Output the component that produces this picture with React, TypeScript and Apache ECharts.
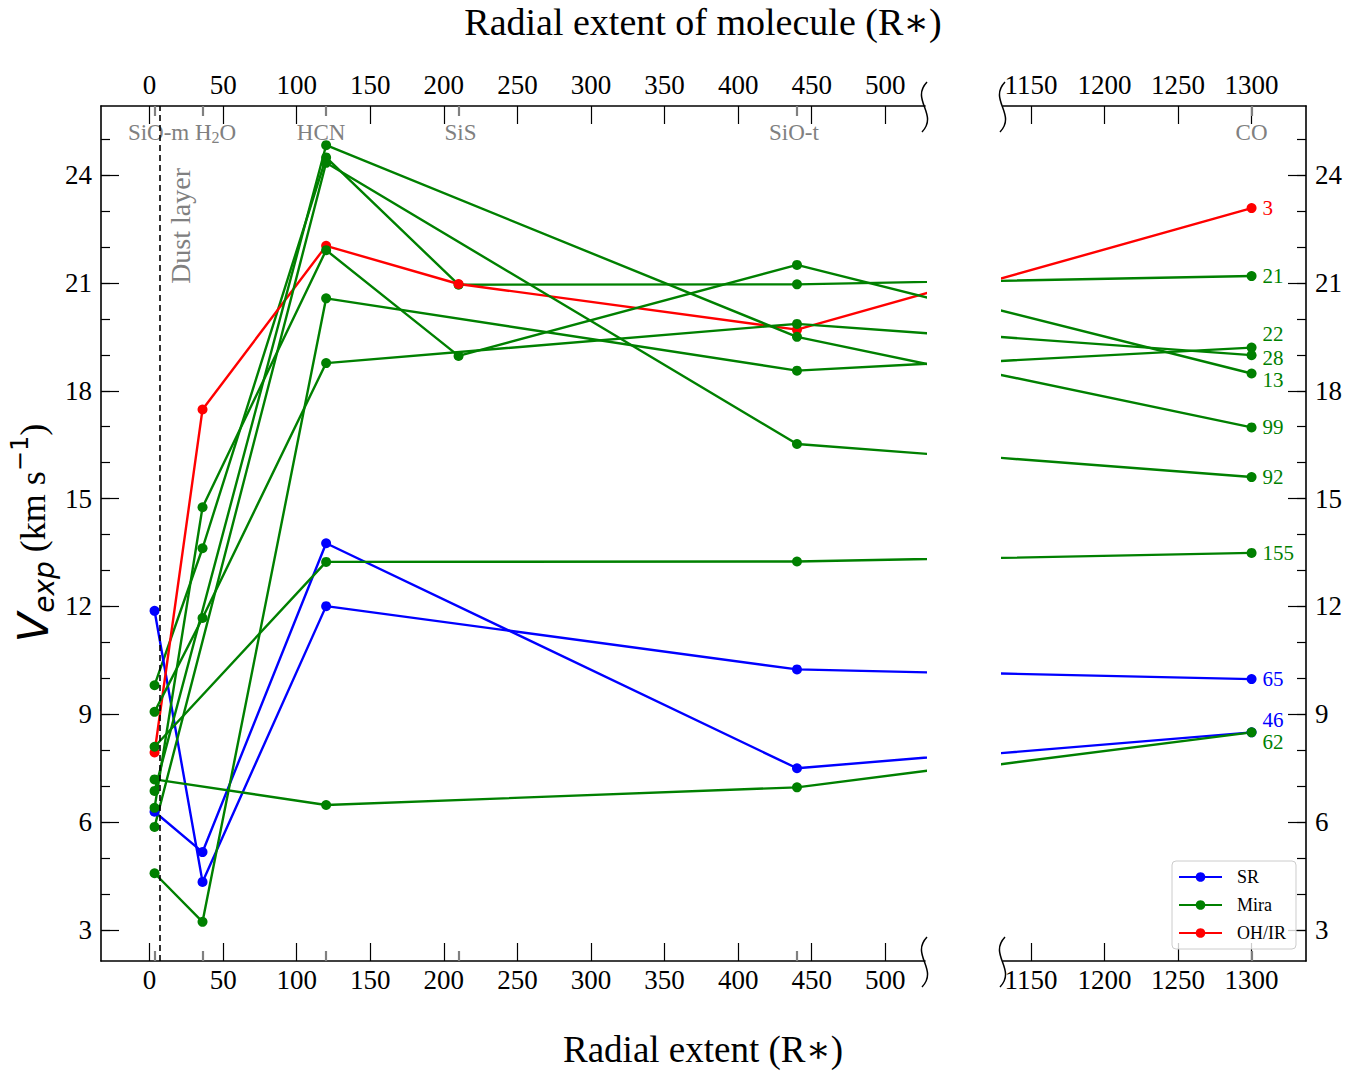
import React, { useEffect, useRef } from "react";
import * as echarts from "echarts";

// ---------------- data ----------------
// molecules shown on the top axis and their radial extent (R*)
const molecules = ["SiO-m", "H2O", "HCN", "SiS", "SiO-t", "CO"];
const moleculeRadius = [3.4, 36, 120, 210, 440, 1300];

// expansion velocity (km/s) of each star, in molecule order (null = not observed)
const vexpStar21 = [9.81, 13.62, 24.49, 20.95, 20.96, 21.19];
const vexpStar65 = [11.88, 4.34, 12.01, null, 10.25, 9.98];
const vexpStar46 = [6.29, 5.17, 13.76, null, 7.5, 8.5];
const vexpStar3 = [7.94, 17.48, 22.03, 20.97, 19.7, 23.08];
const vexpStar22 = [4.58, 3.23, 20.57, null, 18.56, 19.2];
const vexpStar28 = [9.07, 11.68, 18.77, null, 19.86, 18.99];
const vexpStar13 = [6.4, 14.76, 21.91, 18.97, 21.5, 18.48];
const vexpStar99 = [6.87, null, 24.83, null, 19.5, 16.98];
const vexpStar92 = [5.87, null, 24.34, null, 16.52, 15.6];
const vexpStar155 = [8.1, null, 13.24, null, 13.25, 13.49];
const vexpStar62 = [7.19, null, 6.48, null, 6.97, 8.5];

const starIds = ["21", "65", "46", "3", "22", "28", "13", "99", "92", "155", "62"];
const starClasses = ["Mira", "SR", "SR", "OH/IR", "Mira", "Mira", "Mira", "Mira", "Mira", "Mira", "Mira"];
const starValues = [
  vexpStar21, vexpStar65, vexpStar46, vexpStar3, vexpStar22, vexpStar28,
  vexpStar13, vexpStar99, vexpStar92, vexpStar155, vexpStar62,
];

const classNames = ["SR", "Mira", "OH/IR"];
const dustLayerRadius = 7;

const xTicksLeft = [0, 50, 100, 150, 200, 250, 300, 350, 400, 450, 500];
const xTicksRight = [1150, 1200, 1250, 1300];
const yMajorTicks = [3, 6, 9, 12, 15, 18, 21, 24];
const yMinorTicks = [3, 4, 5, 6, 7, 8, 9, 10, 11, 12, 13, 14, 15, 16, 17, 18, 19, 20, 21, 22, 23, 24, 25];

// ---------------- layout / style ----------------
const FONT = '"Liberation Serif", "Times New Roman", "DejaVu Serif", serif';
const MATH = '"DejaVu Sans", sans-serif';
const X_LEFT_MIN = -33;
const X_LEFT_MAX = 527;
const X_RIGHT_MIN = 1131;
const X_RIGHT_MAX = 1337;
const BREAK_SHIFT = 566; // compression of the axis break (right panel label = plotted x + shift)
const Y_MIN = 2.14;
const Y_MAX = 25.92;
const G0 = { left: 101, top: 106, width: 824, height: 855 };
const G1 = { left: 1003, top: 106, width: 303, height: 855 };
const classColor: Record<string, string> = { SR: "#0000ff", Mira: "#008000", "OH/IR": "#ff0000" };
const labelDy: Record<string, number> = { "22": -14, "28": 3, "13": 6, "46": -12, "62": 10 };
const molLabelDx: Record<string, number> = { "SiO-m": 4, H2O: 13, HCN: -5, SiS: 2, "SiO-t": -3 };
const MOL_LABEL_Y = 132;
const GRAY = "#808080";

function mainX(gridIndex: number, position: string, min: number, max: number, ticks: number[]) {
  return {
    type: "value",
    gridIndex,
    position,
    min,
    max,
    axisLine: { show: true, onZero: false, lineStyle: { color: "#000", width: 1.6 } },
    axisTick: { show: true, inside: true, length: 18, customValues: ticks, lineStyle: { color: "#000", width: 1.2 } },
    axisLabel: {
      show: true,
      customValues: ticks,
      formatter: (v: number) => String(v),
      fontSize: 27,
      color: "#000",
      fontFamily: FONT,
      margin: position === "bottom" ? 5 : 8,
    },
    splitLine: { show: false },
  };
}

function molX(gridIndex: number, position: string, min: number, max: number, values: number[]) {
  return {
    type: "value",
    gridIndex,
    position,
    min,
    max,
    axisLine: { show: false, onZero: false },
    axisTick: { show: true, inside: true, length: 10, customValues: values, lineStyle: { color: GRAY, width: 2.2 } },
    axisLabel: { show: false },
    splitLine: { show: false },
  };
}

function yAx(gridIndex: number, position: string, major: boolean) {
  return {
    type: "value",
    gridIndex,
    position,
    min: Y_MIN,
    max: Y_MAX,
    axisLine: { show: major, onZero: false, lineStyle: { color: "#000", width: 1.6 } },
    axisTick: {
      show: true,
      inside: true,
      length: major ? 18 : 9,
      customValues: major ? yMajorTicks : yMinorTicks,
      lineStyle: { color: "#000", width: 1.2 },
    },
    axisLabel: {
      show: major,
      customValues: yMajorTicks,
      formatter: (v: number) => String(v),
      fontSize: 27,
      color: "#000",
      fontFamily: FONT,
      margin: 9,
    },
    splitLine: { show: false },
  };
}

function breakMark(id: string, cx: number, cy: number) {
  return {
    type: "bezierCurve",
    id,
    silent: true,
    shape: { x1: cx + 2, y1: cy - 24, cpx1: cx - 15, cpy1: cy - 6, cpx2: cx + 14, cpy2: cy + 8, x2: cx - 3, y2: cy + 26 },
    style: { stroke: "#000", lineWidth: 1.5, fill: null },
    z: 100,
  };
}

function baseGraphics(): any[] {
  return [
    {
      type: "text",
      id: "titleTop",
      x: 703,
      y: 22,
      silent: true,
      style: { text: "Radial extent of molecule (R\u2217)", fontSize: 38, fontFamily: FONT, fill: "#000", align: "center", verticalAlign: "middle" },
    },
    {
      type: "text",
      id: "titleBottom",
      x: 703,
      y: 1049,
      silent: true,
      style: { text: "Radial extent (R\u2217)", fontSize: 37, fontFamily: FONT, fill: "#000", align: "center", verticalAlign: "middle" },
    },
    {
      type: "text",
      id: "yTitle",
      x: 33,
      y: 533,
      rotation: Math.PI / 2,
      silent: true,
      style: {
        text: "{v|V}{sub|exp}{t| (km s}{sup|\u22121}{t|)}",
        align: "center",
        verticalAlign: "middle",
        fill: "#000",
        rich: {
          v: { fontFamily: MATH, fontStyle: "italic", fontSize: 43, lineHeight: 50, fill: "#000" },
          sub: { fontFamily: MATH, fontStyle: "italic", fontSize: 28, verticalAlign: "bottom", lineHeight: 50, fill: "#000" },
          t: { fontFamily: FONT, fontSize: 36, lineHeight: 50, fill: "#000" },
          sup: { fontFamily: MATH, fontSize: 24, verticalAlign: "top", lineHeight: 50, fill: "#000" },
        },
      },
    },
    {
      type: "text",
      id: "dustText",
      x: 180,
      y: 168,
      rotation: Math.PI / 2,
      silent: true,
      style: { text: "Dust layer", fontSize: 28, fontFamily: FONT, fill: GRAY, align: "right", verticalAlign: "middle" },
    },
    breakMark("bk1", G0.left + G0.width, G0.top),
    breakMark("bk2", G0.left + G0.width, G0.top + G0.height),
    breakMark("bk3", G1.left, G1.top),
    breakMark("bk4", G1.left, G1.top + G1.height),
  ];
}

function buildOption() {
  const series: any[] = [];
  // dust layer
  series.push({
    type: "line",
    xAxisIndex: 0,
    yAxisIndex: 0,
    data: [],
    silent: true,
    markLine: {
      silent: true,
      symbol: ["none", "none"],
      label: { show: false },
      lineStyle: { color: "#000", type: [6, 4], width: 1.6 },
      data: [{ xAxis: dustLayerRadius }],
      animation: false,
    },
  });

  starIds.forEach((id, k) => {
    const cls = starClasses[k];
    const color = classColor[cls];
    const pts: number[][] = [];
    starValues[k].forEach((v, i) => {
      if (v != null) pts.push([moleculeRadius[i], v as number]);
    });
    const common = {
      type: "line",
      name: cls,
      color,
      symbol: "circle",
      symbolSize: 10,
      showAllSymbol: true,
      lineStyle: { width: 2.4, color },
      itemStyle: { color },
      emphasis: { disabled: true },
      clip: true,
      animation: false,
    };
    series.push({
      ...common,
      xAxisIndex: 0,
      yAxisIndex: 0,
      data: pts.map(([x, v]) => [x > X_LEFT_MAX ? x - BREAK_SHIFT : x, v]),
    });
    series.push({
      ...common,
      xAxisIndex: 4,
      yAxisIndex: 2,
      data: pts.map(([x, v]) => {
        const xr = x < X_RIGHT_MIN ? x + BREAK_SHIFT : x;
        if (x === moleculeRadius[moleculeRadius.length - 1]) {
          return {
            value: [xr, v],
            label: {
              show: true,
              formatter: id,
              position: "right",
              distance: 6,
              color,
              fontSize: 21,
              lineHeight: 19,
              fontFamily: FONT,
              offset: [0, labelDy[id] || 0],
            },
          };
        }
        return [xr, v];
      }),
    });
  });

  const leftMol = moleculeRadius.filter((r) => r <= X_LEFT_MAX);
  const rightMol = moleculeRadius.filter((r) => r >= X_RIGHT_MIN);

  return {
    animation: false,
    backgroundColor: "#fff",
    textStyle: { fontFamily: FONT },
    grid: [
      { ...G0, containLabel: false },
      { ...G1, containLabel: false },
    ],
    xAxis: [
      mainX(0, "bottom", X_LEFT_MIN, X_LEFT_MAX, xTicksLeft),
      mainX(0, "top", X_LEFT_MIN, X_LEFT_MAX, xTicksLeft),
      molX(0, "top", X_LEFT_MIN, X_LEFT_MAX, leftMol),
      molX(0, "bottom", X_LEFT_MIN, X_LEFT_MAX, leftMol),
      mainX(1, "bottom", X_RIGHT_MIN, X_RIGHT_MAX, xTicksRight),
      mainX(1, "top", X_RIGHT_MIN, X_RIGHT_MAX, xTicksRight),
      molX(1, "top", X_RIGHT_MIN, X_RIGHT_MAX, rightMol),
      molX(1, "bottom", X_RIGHT_MIN, X_RIGHT_MAX, rightMol),
    ],
    yAxis: [yAx(0, "left", true), yAx(0, "left", false), yAx(1, "right", true), yAx(1, "right", false)],
    legend: {
      data: classNames,
      orient: "vertical",
      left: 1172,
      top: 861,
      itemWidth: 43,
      itemHeight: 12,
      itemGap: 10,
      padding: [7, 10, 7, 6],
      backgroundColor: "rgba(255,255,255,0.8)",
      borderColor: "#cccccc",
      borderWidth: 1,
      borderRadius: 4,
      selectedMode: false,
      textStyle: { fontFamily: FONT, fontSize: 18, color: "#000", padding: [0, 0, 0, 10] },
    },
    graphic: baseGraphics(),
    series,
  };
}

export default function App() {
  const ref = useRef<HTMLDivElement>(null);
  useEffect(() => {
    if (!ref.current) return;
    const chart = echarts.init(ref.current, null, { renderer: "svg" });
    chart.setOption(buildOption() as any);
    // molecule names on the top axis, placed at their radial extent through the axis scale
    const molLabels = molecules.map((name, i) => {
      const r = moleculeRadius[i];
      const px = (r <= X_LEFT_MAX
        ? chart.convertToPixel({ xAxisIndex: 0 } as any, r)
        : chart.convertToPixel({ xAxisIndex: 4 } as any, r)) as number;
      const text = name === "H2O" ? "{m|H}{s|2}{m|O}" : "{m|" + name + "}";
      return {
        type: "text",
        id: "mol" + i,
        x: px + (molLabelDx[name] || 0),
        y: MOL_LABEL_Y,
        silent: true,
        style: {
          text,
          align: "center",
          verticalAlign: "middle",
          rich: {
            m: { fontSize: 23, fontFamily: FONT, fill: GRAY, lineHeight: 26 },
            s: { fontSize: 16, fontFamily: FONT, fill: GRAY, verticalAlign: "bottom", lineHeight: 26, padding: [8, 0, 0, 0] },
          },
        },
      };
    });
    chart.setOption({ graphic: [...baseGraphics(), ...molLabels] } as any);
    return () => chart.dispose();
  }, []);
  return (
    <div
      ref={ref}
      style={{ position: "fixed", left: 0, top: 0, width: 1369, height: 1072, background: "#fff" }}
    />
  );
}
